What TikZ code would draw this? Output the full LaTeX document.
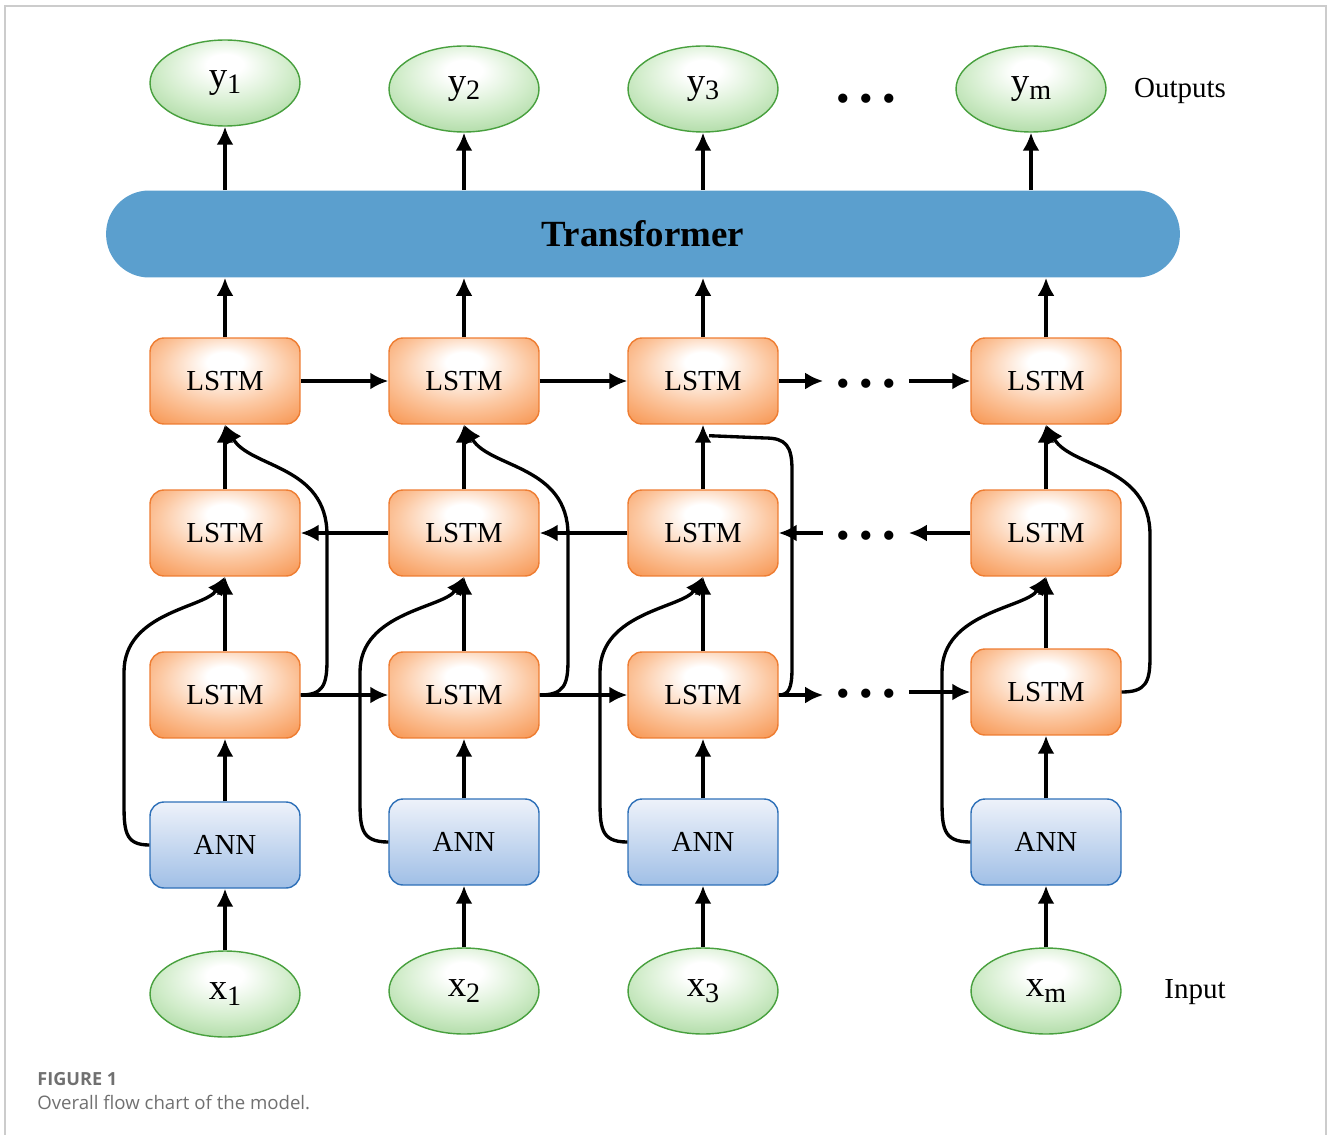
\documentclass[tikz,border=0pt]{standalone}
\usepackage{fontspec}
\setmainfont{Liberation Serif}
\newfontfamily\capfont{Open Sans}
\usetikzlibrary{arrows.meta}
\usetikzlibrary{shapes.geometric}

\definecolor{lstmorange}{RGB}{247,150,82}
\definecolor{lstmlight}{RGB}{252,200,162}
\definecolor{lstmline}{RGB}{238,125,50}
\definecolor{anntop}{RGB}{238,242,250}
\definecolor{annbot}{RGB}{160,191,230}
\definecolor{annline}{RGB}{46,112,184}
\definecolor{elldark}{RGB}{158,210,148}
\definecolor{elllight}{RGB}{208,236,201}
\definecolor{ellline}{RGB}{72,160,62}
\definecolor{transblue}{RGB}{91,159,206}
\definecolor{capgray}{RGB}{112,112,112}
\definecolor{framegray}{RGB}{204,204,204}

\pgfdeclareradialshading{lstmshade}{\pgfpoint{0bp}{12bp}}{color(0bp)=(white); color(6bp)=(white); color(22bp)=(lstmlight); color(38bp)=(lstmorange); color(60bp)=(lstmorange)}
\pgfdeclareradialshading{ellshade}{\pgfpoint{0bp}{12bp}}{color(0bp)=(white); color(6bp)=(white); color(22bp)=(elllight); color(38bp)=(elldark); color(60bp)=(elldark)}

\newcommand{\lblsub}[2]{{\fontsize{21}{21}\selectfont #1\raisebox{-0.35ex}{\fontsize{16}{16}\selectfont #2}}}

\tikzset{
  lstmbox/.style={rectangle, rounded corners=0.28cm, draw=lstmline, line width=0.8pt, shade, shading=lstmshade,
    minimum width=3cm, minimum height=1.72cm, font=\fontsize{16.5}{18}\selectfont},
  annbox/.style={rectangle, rounded corners=0.28cm, draw=annline, line width=0.8pt, top color=anntop, bottom color=annbot,
    minimum width=3cm, minimum height=1.72cm, font=\fontsize{16.5}{18}\selectfont},
  ioell/.style={ellipse, draw=ellline, line width=0.8pt, shade, shading=ellshade, inner sep=0pt,
    minimum width=3cm, minimum height=1.72cm},
  transbox/.style={rectangle, rounded corners=0.86cm, fill=transblue, minimum width=21.48cm, minimum height=1.74cm,
    font=\fontsize{21}{24}\selectfont\bfseries},
  dotsnode/.style={inner sep=0pt, minimum width=1.7cm, minimum height=0.5cm, font=\fontsize{22}{22}\selectfont},
  sidelbl/.style={font=\fontsize{16.5}{18}\selectfont},
  flow/.style={-{Latex[length=0.36cm,width=0.34cm]}, line width=1.9pt},
  skip/.style={line width=1.9pt}
}

\begin{document}
\begin{tikzpicture}[x=0.02cm,y=-0.02cm]
\useasboundingbox (0,0) rectangle (1328,1135);
\draw[framegray, line width=0.8pt] (5,1140) -- (5,6) -- (1326,6) -- (1326,1140);

% outputs
\node[ioell] (y1) at (225,83) {\lblsub{y}{1}};
\node[ioell] (y2) at (464,89) {\lblsub{y}{2}};
\node[ioell] (y3) at (703,89) {\lblsub{y}{3}};
\node[dotsnode] (dotsY) at (866,103) {\textbullet{} \textbullet{} \textbullet};
\node[ioell] (ym) at (1031,89) {\lblsub{y}{m}};
\node[sidelbl] (outlbl) at (1180,91) {Outputs};

\node[transbox] (trans) at (643,234) {Transformer};

% lstm layers
\node[lstmbox] (l11) at (225,381) {LSTM};
\node[lstmbox] (l12) at (464,381) {LSTM};
\node[lstmbox] (l13) at (703,381) {LSTM};
\node[dotsnode] (dotsA) at (866,388) {\textbullet{} \textbullet{} \textbullet};
\node[lstmbox] (l14) at (1046,381) {LSTM};

\node[lstmbox] (l21) at (225,533) {LSTM};
\node[lstmbox] (l22) at (464,533) {LSTM};
\node[lstmbox] (l23) at (703,533) {LSTM};
\node[dotsnode] (dotsB) at (866,540) {\textbullet{} \textbullet{} \textbullet};
\node[lstmbox] (l24) at (1046,533) {LSTM};

\node[lstmbox] (l31) at (225,695) {LSTM};
\node[lstmbox] (l32) at (464,695) {LSTM};
\node[lstmbox] (l33) at (703,695) {LSTM};
\node[dotsnode] (dotsC) at (866,698) {\textbullet{} \textbullet{} \textbullet};
\node[lstmbox] (l34) at (1046,692) {LSTM};

% ann
\node[annbox] (a1) at (225,845) {ANN};
\node[annbox] (a2) at (464,842) {ANN};
\node[annbox] (a3) at (703,842) {ANN};
\node[annbox] (a4) at (1046,842) {ANN};

% inputs
\node[ioell] (x1) at (225,994) {\lblsub{x}{1}};
\node[ioell] (x2) at (464,991) {\lblsub{x}{2}};
\node[ioell] (x3) at (703,991) {\lblsub{x}{3}};
\node[ioell] (xm) at (1046,991) {\lblsub{x}{m}};
\node[sidelbl] (inlbl) at (1195,992) {Input};

% caption
\node[anchor=base west, inner sep=0pt, text=capgray, font=\capfont\bfseries\fontsize{10.3}{12}\selectfont] (figno) at (37,1085) {FIGURE 1};
\node[anchor=base west, inner sep=0pt, text=capgray, font=\capfont\fontsize{10.6}{12}\selectfont] (figtxt) at (37,1109) {Overall flow chart of the model.};

% vertical flow
\draw[flow] (x1.north) -- (a1.south);
\draw[flow] (x2.north) -- (a2.south);
\draw[flow] (x3.north) -- (a3.south);
\draw[flow] (xm.north) -- (a4.south);
\draw[flow] (a1.north) -- (l31.south);
\draw[flow] (a2.north) -- (l32.south);
\draw[flow] (a3.north) -- (l33.south);
\draw[flow] (a4.north) -- (l34.south);
\draw[flow] (l31.north) -- (l21.south);
\draw[flow] (l32.north) -- (l22.south);
\draw[flow] (l33.north) -- (l23.south);
\draw[flow] (l34.north) -- (l24.south);
\draw[flow] (l21.north) -- (l11.south);
\draw[flow] (l22.north) -- (l12.south);
\draw[flow] (l23.north) -- (l13.south);
\draw[flow] (l24.north) -- (l14.south);
\draw[flow] (l11.north) -- (l11.north |- trans.south);
\draw[flow] (l12.north) -- (l12.north |- trans.south);
\draw[flow] (l13.north) -- (l13.north |- trans.south);
\draw[flow] (l14.north) -- (l14.north |- trans.south);
\draw[flow] (trans.north -| y1.south) -- (y1.south);
\draw[flow] (trans.north -| y2.south) -- (y2.south);
\draw[flow] (trans.north -| y3.south) -- (y3.south);
\draw[flow] (trans.north -| ym.south) -- (ym.south);

% horizontal flow
\draw[flow] (l11.east) -- (l12.west);
\draw[flow] (l12.east) -- (l13.west);
\draw[flow] (l13.east) -- (l13.east -| dotsA.west);
\draw[flow] (dotsA.east |- l14.west) -- (l14.west);
\draw[flow] (l24.west) -- (l24.west -| dotsB.east);
\draw[flow] (dotsB.west |- l23.east) -- (l23.east);
\draw[flow] (l23.west) -- (l22.east);
\draw[flow] (l22.west) -- (l21.east);
\draw[flow] (l31.east) -- (l32.west);
\draw[flow] (l32.east) -- (l33.west);
\draw[flow] (l33.east) -- (l33.east -| dotsC.west);
\draw[flow] (dotsC.east |- l34.west) -- (l34.west);

% skip from ann to second lstm
\draw[flow] (a1.west) .. controls (124,845) and (124,830) .. (124,800) -- (124,672) .. controls (124,612) and (205,608) .. (l21.south);
\draw[flow] (a2.west) .. controls (360,842) and (360,827) .. (360,797) -- (360,672) .. controls (360,612) and (444,608) .. (l22.south);
\draw[flow] (a3.west) .. controls (600,842) and (600,827) .. (600,797) -- (600,672) .. controls (600,612) and (683,608) .. (l23.south);
\draw[flow] (a4.west) .. controls (942,842) and (942,827) .. (942,797) -- (942,672) .. controls (942,612) and (1026,608) .. (l24.south);

% skip from first lstm to top lstm
\draw[flow] (l31.east) .. controls (323,695) and (327,685) .. (327,660) -- (327,535) .. controls (327,465) and (250,468) .. (l11.south);
\draw[flow] (l32.east) .. controls (564,695) and (568,685) .. (568,660) -- (568,535) .. controls (568,465) and (489,468) .. (l12.south);
\draw[skip] (l33.east) .. controls (789,695) and (792,688) .. (792,668) -- (792,470) .. controls (792,446) and (786,438) .. (765,438) -- ([shift={(6,11)}]l13.south);
\draw[flow] (l34.east) .. controls (1146,692) and (1150,682) .. (1150,657) -- (1150,535) .. controls (1150,465) and (1071,468) .. (l14.south);
\end{tikzpicture}
\end{document}
